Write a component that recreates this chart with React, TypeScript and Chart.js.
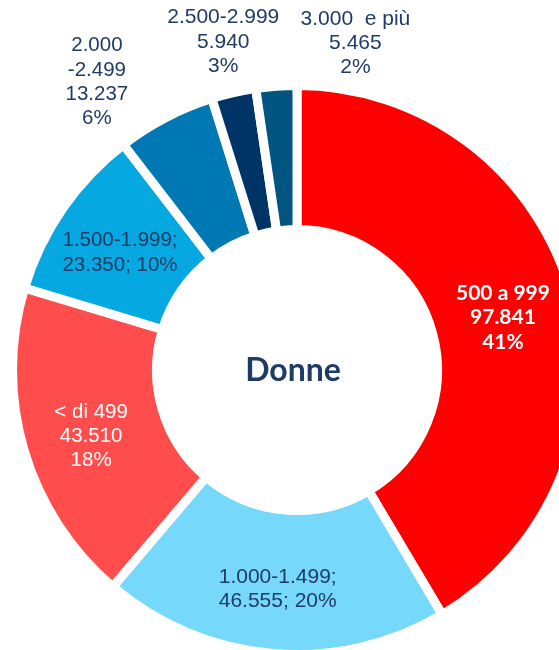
import React, { useEffect, useRef } from "react";
import { Chart, registerables } from "chart.js";

Chart.register(...registerables);

// ---- data ----
const categories = ["500 a 999", "1.000-1.499", "< di 499", "1.500-1.999", "2.000\n-2.499", "2.500-2.999", "3.000  e più"];
const values = [97841, 46555, 43510, 23350, 13237, 5940, 5465];
const centerTitle = "Donne";

// ---- style (not data) ----
const colors = ["#FF0000", "#76D8FA", "#FF4D4D", "#05A8E0", "#0078B4", "#003466", "#005680"];
const labelFormat = ["stack", "semi", "stack", "semi", "stack", "stack", "stack"];
const labelColor = ["#FFFFFF", "#1F3B66", "#FFFFFF", "#1F3B66", "#1F3B66", "#1F3B66", "#1F3B66"];
const labelFont = [
  "bold 21px Lato",
  "21px 'Liberation Sans'",
  "20.5px 'Liberation Sans'",
  "20.5px 'Liberation Sans'",
  "20.5px 'Liberation Sans'",
  "21px 'Liberation Sans'",
  "21px 'Liberation Sans'",
];
// label placement: radius in px from centre, angular nudge (deg) from slice mid-angle
const labelRadius = [212.5, 219.8, 216.3, 212.2, 350.6, 336.2, 332];
const labelAngleNudge = [1.1, 0.2, -1.4, -1.1, -7.3, 0.2, 14.3];
const lineHeight = 24.3;

const fmt = (n: number) => String(n).replace(/\B(?=(\d{3})+(?!\d))/g, ".");

const labelPlugin = {
  id: "sliceLabels",
  afterDatasetsDraw(chart: any) {
    const ctx = chart.ctx as CanvasRenderingContext2D;
    const meta = chart.getDatasetMeta(0);
    const data = chart.data.datasets[0].data as number[];
    const total = data.reduce((a, b) => a + b, 0);
    ctx.save();
    ctx.textAlign = "center";
    ctx.textBaseline = "middle";
    meta.data.forEach((arc: any, i: number) => {
      const p = arc.getProps(["x", "y", "startAngle", "endAngle"], true);
      const mid = (p.startAngle + p.endAngle) / 2 + (labelAngleNudge[i] * Math.PI) / 180;
      const lx = p.x + Math.cos(mid) * labelRadius[i];
      const ly = p.y + Math.sin(mid) * labelRadius[i];
      const pct = Math.round((data[i] / total) * 100) + "%";
      const cat = categories[i];
      let lines: string[];
      if (labelFormat[i] === "semi") {
        lines = [cat + ";", fmt(data[i]) + "; " + pct];
      } else {
        lines = [...cat.split("\n"), fmt(data[i]), pct];
      }
      ctx.font = labelFont[i];
      ctx.fillStyle = labelColor[i];
      const h = (lines.length - 1) * lineHeight;
      lines.forEach((t, k) => {
        ctx.fillText(t, lx, ly - h / 2 + k * lineHeight);
      });
    });
    // centre title
    const a0 = meta.data[0];
    if (a0) {
      ctx.font = "bold 32px Lato";
      ctx.fillStyle = "#1F3B66";
      ctx.fillText(centerTitle, a0.x - 4, a0.y + 1);
    }
    ctx.restore();
  },
};

export default function App() {
  const ref = useRef<HTMLCanvasElement | null>(null);
  useEffect(() => {
    if (!ref.current) return;
    const chart = new Chart(ref.current, {
      type: "doughnut",
      data: {
        labels: categories,
        datasets: [
          {
            data: values,
            backgroundColor: colors,
            borderColor: "#FFFFFF",
            borderWidth: 9,
            borderJoinStyle: "miter",
            hoverOffset: 0,
          } as any,
        ],
      },
      options: {
        animation: false,
        responsive: false,
        devicePixelRatio: 1,
        radius: 284.5,
        cutout: "49.38%",
        layout: { padding: 0 },
        plugins: {
          legend: { display: false },
          tooltip: { enabled: false },
          title: { display: false },
        },
        events: [],
      } as any,
      plugins: [labelPlugin],
    });
    return () => chart.destroy();
  }, []);
  return (
    <div
      style={{
        position: "fixed",
        left: 0,
        top: 0,
        width: 559,
        height: 650,
        overflow: "hidden",
        background: "#FFFFFF",
      }}
    >
      <canvas ref={ref} width={594} height={740} style={{ position: "absolute", left: 0, top: 0 }} />
    </div>
  );
}
